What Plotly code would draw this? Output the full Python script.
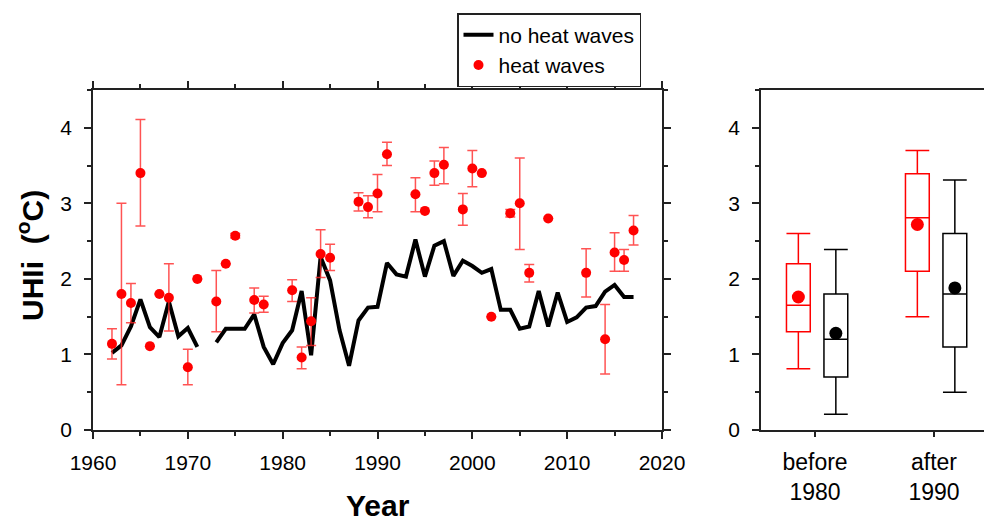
import plotly.graph_objects as go

# ---------------- data ----------------
line_years = list(range(1962, 2018))
no_hw = [1.02, 1.12, 1.37, 1.73, 1.36, 1.23, 1.70, 1.24, 1.35, 1.10,
         None, 1.16, 1.34, 1.34, 1.34, 1.53, 1.10, 0.87, 1.15, 1.32,
         1.84, 0.99, 2.29, 1.98, 1.32, 0.85, 1.45, 1.62, 1.63, 2.21,
         2.06, 2.03, 2.52, 2.03, 2.44, 2.50, 2.04, 2.24, 2.17, 2.08,
         2.13, 1.59, 1.59, 1.34, 1.37, 1.84, 1.37, 1.82, 1.43, 1.49,
         1.62, 1.64, 1.83, 1.92, 1.76, 1.76]

hw_years = [1962, 1963, 1964, 1965, 1966, 1967, 1968, 1970, 1971, 1973,
            1974, 1975, 1977, 1978, 1981, 1982, 1983, 1984, 1985, 1988,
            1989, 1990, 1991, 1994, 1995, 1996, 1997, 1999, 2000, 2001,
            2002, 2004, 2005, 2006, 2008, 2012, 2014, 2015, 2016, 2017]
hw_vals = [1.14, 1.80, 1.68, 3.40, 1.11, 1.80, 1.75, 0.83, 2.00, 1.70,
           2.20, 2.57, 1.72, 1.66, 1.85, 0.96, 1.44, 2.33, 2.28, 3.02,
           2.95, 3.13, 3.65, 3.12, 2.90, 3.40, 3.51, 2.92, 3.46, 3.40,
           1.50, 2.87, 3.00, 2.08, 2.80, 2.08, 1.20, 2.35, 2.25, 2.64]
hw_hi = [1.34, 3.00, 1.94, 4.11, None, None, 2.20, 1.07, None, 2.11,
         None, 2.60, 1.88, 1.77, 1.99, 1.10, 1.75, 2.65, 2.46, 3.14,
         3.10, 3.38, 3.81, 3.34, None, 3.56, 3.74, 3.13, 3.70, None,
         None, 2.92, 3.60, 2.19, None, 2.40, 1.66, 2.61, 2.39, 2.84]
hw_lo = [0.94, 0.60, 1.42, 2.70, None, None, 1.31, 0.60, None, 1.30,
         None, 2.54, 1.55, 1.56, 1.70, 0.81, 1.12, 2.02, 2.11, 2.90,
         2.81, 2.89, 3.50, 2.89, None, 3.24, 3.26, 2.71, 3.22, None,
         None, 2.82, 2.39, 1.96, None, 1.76, 0.74, 2.10, 2.10, 2.45]

periods = ["before<br>1980", "after<br>1990"]
# heat waves boxes
hw_low = [0.81, 1.50]
hw_q1 = [1.30, 2.10]
hw_med = [1.65, 2.81]
hw_q3 = [2.20, 3.39]
hw_up = [2.60, 3.70]
hw_mean = [1.76, 2.72]
# no heat waves boxes
nh_low = [0.21, 0.50]
nh_q1 = [0.70, 1.10]
nh_med = [1.20, 1.80]
nh_q3 = [1.80, 2.60]
nh_up = [2.39, 3.31]
nh_mean = [1.28, 1.88]

# ---------------- figure ----------------
FONT = "Arial, Liberation Sans, sans-serif"
RED = "#ff0000"
ERR = "rgba(255,40,40,0.8)"
W, H = 984, 520

fig = go.Figure()

fig.add_trace(go.Scatter(
    x=line_years, y=no_hw, mode="lines", name="no heat waves",
    line=dict(color="black", width=4), connectgaps=False,
    xaxis="x", yaxis="y"))

err_plus = [None if h is None else round(h - v, 3) for h, v in zip(hw_hi, hw_vals)]
err_minus = [None if l is None else round(v - l, 3) for l, v in zip(hw_lo, hw_vals)]
fig.add_trace(go.Scatter(
    x=hw_years, y=hw_vals, mode="markers", name="heat waves",
    marker=dict(color=RED, size=10),
    error_y=dict(type="data", symmetric=False, array=err_plus,
                 arrayminus=err_minus, color=ERR, thickness=1.5, width=5),
    xaxis="x", yaxis="y"))

# right panel boxes
red_off, blk_off = -0.14, 0.175
for i in range(len(periods)):
    fig.add_trace(go.Box(
        x=[i + 1 + red_off], q1=[hw_q1[i]], median=[hw_med[i]], q3=[hw_q3[i]],
        lowerfence=[hw_low[i]], upperfence=[hw_up[i]],
        width=0.2, whiskerwidth=1, fillcolor="white",
        line=dict(color=RED, width=1.5), boxpoints=False, showlegend=False,
        hoverinfo="skip", xaxis="x2", yaxis="y2"))
    fig.add_trace(go.Box(
        x=[i + 1 + blk_off], q1=[nh_q1[i]], median=[nh_med[i]], q3=[nh_q3[i]],
        lowerfence=[nh_low[i]], upperfence=[nh_up[i]],
        width=0.2, whiskerwidth=1, fillcolor="white",
        line=dict(color="black", width=1.5), boxpoints=False, showlegend=False,
        hoverinfo="skip", xaxis="x2", yaxis="y2"))

fig.add_trace(go.Scatter(
    x=[i + 1 + red_off for i in range(len(periods))], y=hw_mean, mode="markers",
    marker=dict(color=RED, size=13), showlegend=False, xaxis="x2", yaxis="y2"))
fig.add_trace(go.Scatter(
    x=[i + 1 + blk_off for i in range(len(periods))], y=nh_mean, mode="markers",
    marker=dict(color="black", size=13), showlegend=False, xaxis="x2", yaxis="y2"))

axis_common = dict(showline=True, linecolor="#222", linewidth=1.5,
                   ticks="outside", tickcolor="#222", tickwidth=1.5, ticklen=7,
                   showgrid=False, zeroline=False, automargin=False,
                   tickfont=dict(family=FONT, size=21, color="black"))

ydomain = [1 - 430 / H, 1 - 90 / H]

fig.update_layout(
    width=W, height=H,
    margin=dict(l=0, r=0, t=0, b=0, autoexpand=False),
    paper_bgcolor="white", plot_bgcolor="white",
    font=dict(family=FONT, color="black"),
    boxmode="overlay",
    xaxis=dict(domain=[93 / W, 662 / W], range=[1960, 2020], dtick=10,
               tick0=1960, mirror="ticks", ticklabelstandoff=6,
               minor=dict(dtick=5, ticks="outside", ticklen=4,
                          tickcolor="#222", tickwidth=1.5),
               **axis_common),
    yaxis=dict(domain=ydomain, range=[0, 4.5], dtick=1, tick0=0,
               mirror="ticks", ticklabelstandoff=8,
               minor=dict(dtick=0.5, ticks="outside", ticklen=4,
                          tickcolor="#222", tickwidth=1.5),
               **axis_common),
    xaxis2=dict(domain=[761 / W, 1.0], range=[0.546, 2.42],
                tickvals=[1, 2], ticktext=periods, mirror=True,
                showline=True, linecolor="#222", linewidth=1.5,
                ticks="outside", tickcolor="#222", tickwidth=1.5, ticklen=5,
                showgrid=False, zeroline=False, ticklabelstandoff=6,
                automargin=False,
                tickfont=dict(family=FONT, size=23, color="black"),
                anchor="y2"),
    yaxis2=dict(domain=ydomain, range=[0, 4.5], dtick=1, tick0=0,
                anchor="x2", ticklabelstandoff=8,
                minor=dict(dtick=0.5, ticks="outside", ticklen=4,
                           tickcolor="#222", tickwidth=1.5),
                **axis_common),
    legend=dict(x=457 / W, y=1 - 13 / H, xanchor="left", yanchor="top",
                bordercolor="#222", borderwidth=1.5, bgcolor="white",
                font=dict(family=FONT, size=21, color="black"),
                itemwidth=30, tracegroupgap=0),
    annotations=[
        dict(text="<b>UHIi  (<sup>o</sup>C)</b>", xref="paper", yref="paper",
             x=30 / W, y=1 - 256 / H, textangle=-90, showarrow=False,
             xanchor="center", yanchor="middle",
             font=dict(family=FONT, size=30, color="black")),
        dict(text="<b>Year</b>", xref="paper", yref="paper",
             x=377.5 / W, y=1 - 505 / H, showarrow=False,
             xanchor="center", yanchor="middle",
             font=dict(family=FONT, size=30, color="black")),
    ],
)

fig.write_html("out.html")
